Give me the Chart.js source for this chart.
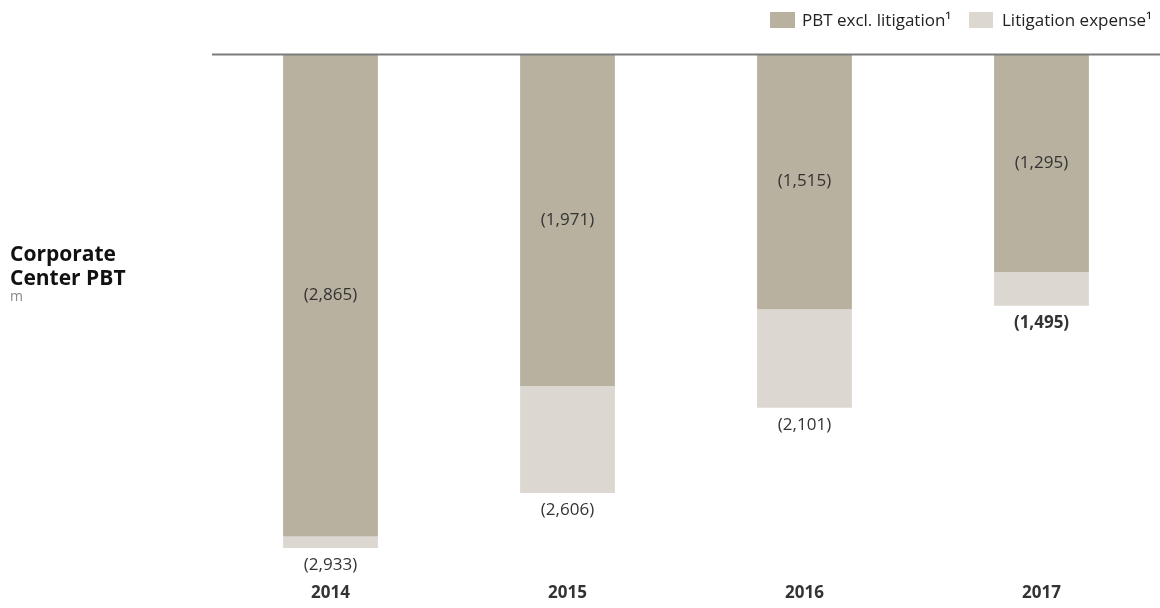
<!DOCTYPE html>
<html>
<head>
<meta charset="utf-8">
<script src="https://cdn.jsdelivr.net/npm/chart.js@4/dist/chart.umd.min.js"></script>
<style>
  html, body { margin: 0; padding: 0; background: #fff; }
  #wrap { width: 1160px; height: 608px; position: relative; }
</style>
</head>
<body>
<div id="wrap"><canvas id="bar-chart-stacked"></canvas></div>
<script>
// values (CHF m, negative = loss)
var years = ['2014', '2015', '2016', '2017'];
var pbtExclLitigation = [-2865, -1971, -1515, -1295];
var litigationExpense = [-68, -635, -586, -200];
var totalPbt = [-2933, -2606, -2101, -1495];
var boldTotal = [false, false, false, true];

var colorPbt = '#b9b19f';
var colorLit = '#dcd8d1';
var font = '"Open Sans", "Noto Sans", sans-serif';

function fmt(v) {
    return '(' + Math.abs(v).toLocaleString('en-US') + ')';
}

var extras = {
    id: 'extras',
    afterDatasetsDraw: function(chart) {
        var ctx = chart.ctx;
        var y = chart.scales.y;
        var area = chart.chartArea;
        var meta0 = chart.getDatasetMeta(0);
        var meta1 = chart.getDatasetMeta(1);

        ctx.save();
        // zero line
        var y0 = Math.round(y.getPixelForValue(0)) + 0.5;
        ctx.strokeStyle = '#7c7c7c';
        ctx.lineWidth = 2;
        ctx.beginPath();
        ctx.moveTo(area.left, y0);
        ctx.lineTo(chart.width, y0);
        ctx.stroke();

        // value labels
        ctx.textAlign = 'center';
        ctx.textBaseline = 'middle';
        ctx.fillStyle = '#333';
        meta0.data.forEach(function(bar, i) {
            ctx.font = '17px ' + font;
            ctx.fillText(fmt(pbtExclLitigation[i]), bar.x, (bar.y + bar.base) / 2);
        });
        meta1.data.forEach(function(bar, i) {
            ctx.font = (boldTotal[i] ? 'bold ' : '') + '17px ' + font;
            ctx.fillText(fmt(totalPbt[i]), bar.x, y.getPixelForValue(totalPbt[i]) + 17);
        });

        // left title
        ctx.textAlign = 'left';
        ctx.textBaseline = 'alphabetic';
        ctx.fillStyle = '#111';
        ctx.font = 'bold 21px ' + font;
        ctx.fillText('Corporate', 10, 261);
        ctx.fillText('Center PBT', 10, 285);
        ctx.fillStyle = '#888';
        ctx.font = '14px ' + font;
        ctx.fillText('m', 10, 301);

        // legend
        ctx.font = '17px ' + font;
        ctx.fillStyle = colorPbt;
        ctx.fillRect(770, 12, 25, 16);
        ctx.fillStyle = colorLit;
        ctx.fillRect(969, 12, 24, 16);
        ctx.fillStyle = '#222';
        ctx.fillText(chart.data.datasets[0].label, 802, 26);
        ctx.fillText(chart.data.datasets[1].label, 1002, 26);
        ctx.restore();
    }
};

new Chart(document.getElementById('bar-chart-stacked'), {
    type: 'bar',
    data: {
        labels: years,
        datasets: [
            {
                label: 'PBT excl. litigation\u00b9',
                backgroundColor: colorPbt,
                data: pbtExclLitigation,
                barPercentage: 0.4,
                categoryPercentage: 1
            },
            {
                label: 'Litigation expense\u00b9',
                backgroundColor: colorLit,
                data: litigationExpense,
                barPercentage: 0.4,
                categoryPercentage: 1
            }
        ]
    },
    options: {
        responsive: true,
        maintainAspectRatio: false,
        animation: false,
        layout: { padding: { left: 212, right: 0, top: 54, bottom: 0 } },
        plugins: {
            legend: { display: false },
            tooltip: { enabled: false }
        },
        scales: {
            x: {
                stacked: true,
                grid: { display: false, drawTicks: false },
                border: { display: false },
                ticks: { color: '#333', padding: 6, font: { family: font, size: 17, weight: 'bold', lineHeight: 1.0 } }
            },
            y: {
                stacked: true,
                display: false,
                min: -3117,
                max: 0
            }
        }
    },
    plugins: [extras]
});
</script>
</body>
</html>
